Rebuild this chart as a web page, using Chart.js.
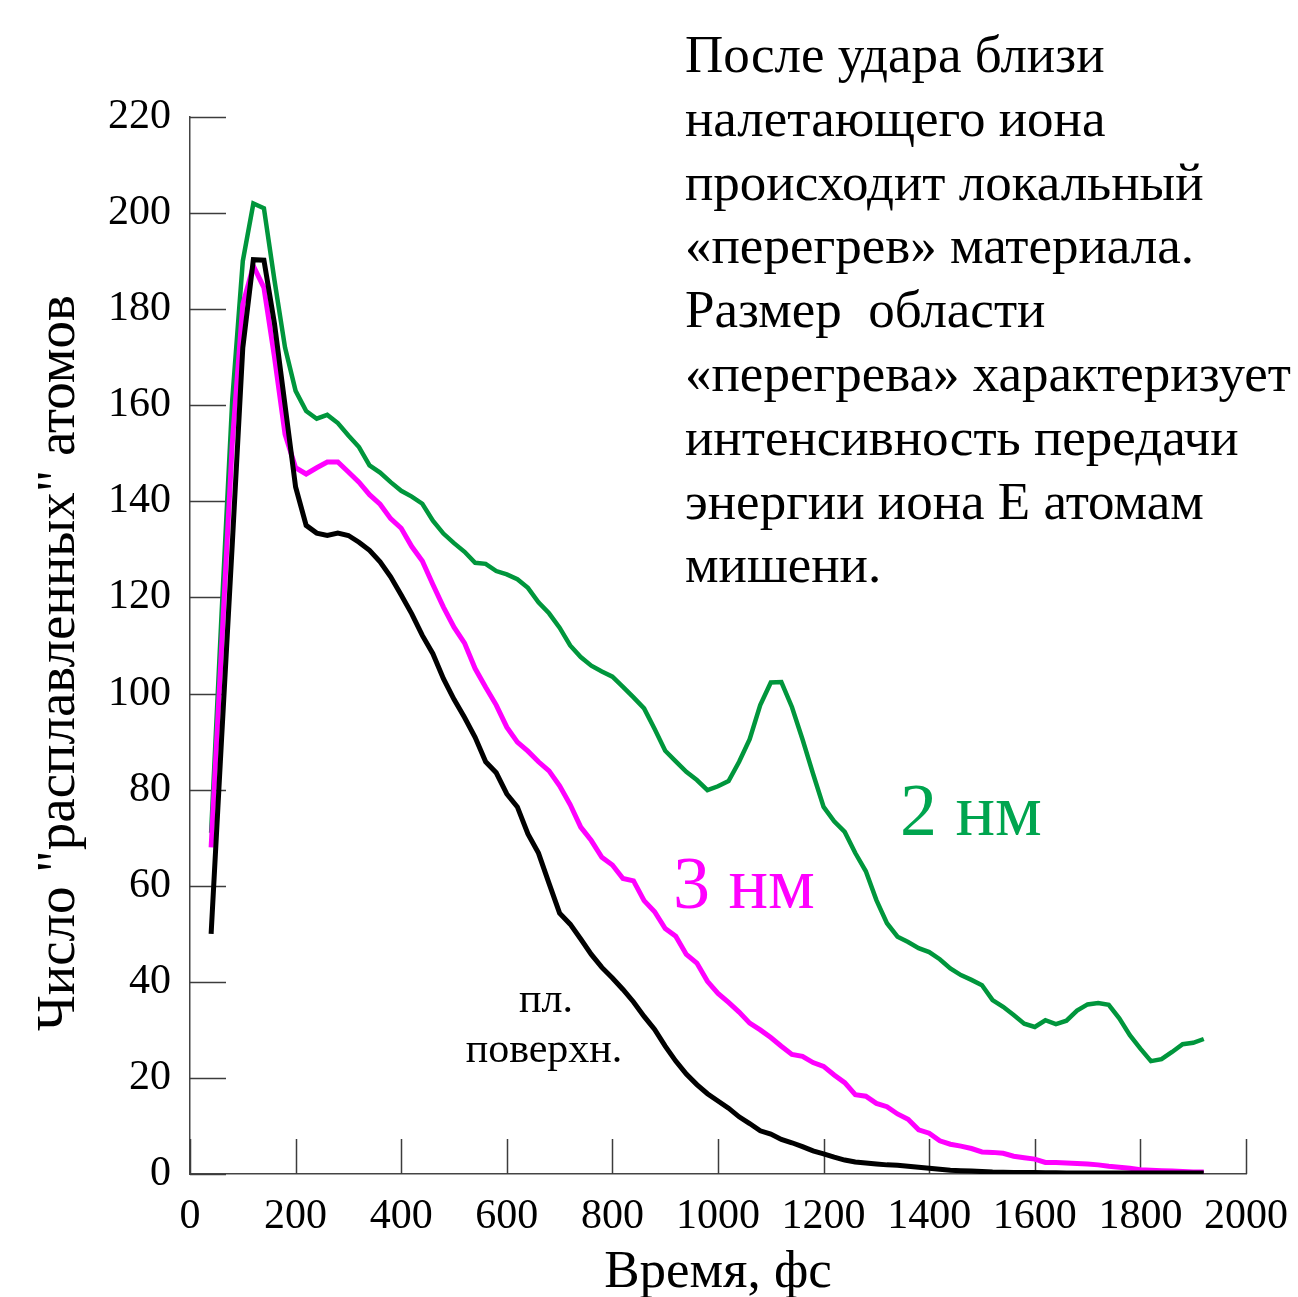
<!DOCTYPE html>
<html lang="ru">
<head>
<meta charset="utf-8">
<title>Число "расплавленных" атомов</title>
<script src="https://cdn.jsdelivr.net/npm/chart.js@4.4.1/dist/chart.umd.min.js"></script>
<style>
  html, body { margin: 0; padding: 0; background: #ffffff; }
  canvas { display: block; }
</style>
</head>
<body>
<canvas id="melt" width="1298" height="1297"></canvas>
<script>
// Time after impact, fs
const timeFs = [
  40, 60, 80, 100, 120, 140, 160, 180, 200, 220,
  240, 260, 280, 300, 320, 340, 360, 380, 400, 420,
  440, 460, 480, 500, 520, 540, 560, 580, 600, 620,
  640, 660, 680, 700, 720, 740, 760, 780, 800, 820,
  840, 860, 880, 900, 920, 940, 960, 980, 1000, 1020,
  1040, 1060, 1080, 1100, 1120, 1140, 1160, 1180, 1200, 1220,
  1240, 1260, 1280, 1300, 1320, 1340, 1360, 1380, 1400, 1420,
  1440, 1460, 1480, 1500, 1520, 1540, 1560, 1580, 1600, 1620,
  1640, 1660, 1680, 1700, 1720, 1740, 1760, 1780, 1800, 1820,
  1840, 1860, 1880, 1900, 1920
];

// Number of "melted" atoms, 2 nm
const melted2nm = [
  71, 117, 161, 190, 202, 201, 186, 172, 163, 158.8,
  157.2, 158, 156.3, 153.7, 151.3, 147.5, 146, 144, 142.2, 141,
  139.5, 136, 133.3, 131.3, 129.5, 127.2, 127, 125.5, 124.8, 123.8,
  122, 119, 116.7, 113.7, 110, 107.6, 105.8, 104.6, 103.5, 101.4,
  99.2, 96.9, 92.6, 88.1, 85.9, 83.7, 82, 79.9, 80.7, 81.8,
  85.8, 90.5, 97.6, 102.3, 102.4, 97.2, 90.5, 83.3, 76.4, 73.4,
  71.2, 66.8, 63, 57, 52.2, 49.4, 48.3, 47, 46.2, 44.7,
  42.8, 41.4, 40.4, 39.3, 36.2, 34.8, 33.1, 31.3, 30.6, 32,
  31.2, 31.9, 34, 35.3, 35.6, 35.2, 32.4, 28.9, 26.1, 23.5,
  23.9, 25.4, 27, 27.3, 28.1
];

// Number of "melted" atoms, 3 nm
const melted3nm = [
  68, 110, 152, 181, 189, 184.5, 170, 154, 147, 145.7,
  147, 148.2, 148.2, 146.1, 144, 141.4, 139.4, 136.4, 134.4, 130.6,
  127.6, 122.7, 118, 113.8, 110.5, 105.2, 101.3, 97.6, 93, 89.9,
  88, 85.8, 83.9, 80.8, 76.9, 72.2, 69.4, 65.9, 64.3, 61.5,
  61, 56.9, 54.6, 51.1, 49.5, 45.7, 43.9, 40.1, 37.6, 35.7,
  33.7, 31.4, 30, 28.4, 26.6, 24.9, 24.5, 23.2, 22.4, 20.6,
  19, 16.5, 16.2, 14.7, 14, 12.5, 11.4, 9.2, 8.5, 6.9,
  6.2, 5.8, 5.3, 4.6, 4.5, 4.3, 3.7, 3.4, 3.1, 2.4,
  2.4, 2.3, 2.2, 2.1, 1.9, 1.6, 1.4, 1.2, 0.9, 0.8,
  0.7, 0.6, 0.5, 0.4, 0.4
];

// Number of "melted" atoms, flat surface
const meltedFlat = [
  50, 91, 131, 172, 190.3, 190.2, 177, 160, 143, 135,
  133.4, 132.9, 133.4, 132.9, 131.5, 129.8, 127.4, 124.3, 120.5, 116.6,
  112.1, 108.3, 103.1, 98.8, 95, 90.9, 85.8, 83.5, 79.1, 76.4,
  70.8, 66.8, 60.5, 54.3, 52, 48.9, 45.7, 43, 40.8, 38.4,
  35.8, 32.8, 30.1, 26.6, 23.5, 20.8, 18.6, 16.7, 15.2, 13.7,
  11.9, 10.5, 9, 8.3, 7.2, 6.5, 5.7, 4.8, 4.2, 3.5,
  2.9, 2.5, 2.3, 2.1, 1.9, 1.8, 1.6, 1.4, 1.2, 1,
  0.8, 0.7, 0.6, 0.5, 0.4, 0.35, 0.3, 0.3, 0.3, 0.25,
  0.25, 0.2, 0.2, 0.2, 0.2, 0.2, 0.2, 0.2, 0.2, 0.2,
  0.2, 0.2, 0.2, 0.2, 0.2
];

// Axis ticks
const xTickValues = [0, 200, 400, 600, 800, 1000, 1200, 1400, 1600, 1800, 2000];
const yTickValues = [0, 20, 40, 60, 80, 100, 120, 140, 160, 180, 200, 220];

// Texts
const xTitle = 'Время, фс';
const yTitle = 'Число "расплавленных" атомов';
const noteLines = [
  'После удара близи',
  'налетающего иона',
  'происходит локальный',
  '«перегрев» материала.',
  'Размер  области',
  '«перегрева» характеризует',
  'интенсивность передачи',
  'энергии иона Е атомам',
  'мишени.'
];
const seriesNames = ['пл. поверхн.', '3 нм', '2 нм'];

const SERIF = '"Liberation Serif", "Times New Roman", Times, serif';
const GREEN = '#00963c';
const GREEN_TEXT = '#00a54f';
const MAGENTA = '#ff00ff';

const pairs = (ys) => timeFs.map((t, i) => ({ x: t, y: ys[i] }));

// Inward tick marks on both axes
const innerTicks = {
  id: 'innerTicks',
  beforeDatasetsDraw(chart) {
    const { ctx, scales: { x, y } } = chart;
    ctx.save();
    ctx.strokeStyle = '#3c3c3c';
    ctx.lineWidth = 1.5;
    ctx.beginPath();
    for (const v of yTickValues) {
      const py = Math.round(y.getPixelForValue(v)) + 0.5;
      ctx.moveTo(x.left, py);
      ctx.lineTo(x.left + 36, py);
    }
    for (const v of xTickValues) {
      const px = Math.round(x.getPixelForValue(v)) + 0.5;
      ctx.moveTo(px, y.bottom);
      ctx.lineTo(px, y.bottom - 35);
    }
    ctx.stroke();
    ctx.restore();
  }
};

// Axis titles, series labels and the note block
const annotations = {
  id: 'annotations',
  afterDraw(chart) {
    const { ctx, scales: { x, y } } = chart;
    ctx.save();
    ctx.textBaseline = 'alphabetic';

    // x axis title
    ctx.fillStyle = '#000';
    ctx.font = '53px ' + SERIF;
    ctx.textAlign = 'center';
    ctx.fillText(xTitle, (x.left + x.right) / 2, 1287);

    // y axis title
    ctx.save();
    ctx.font = '55px ' + SERIF;
    ctx.translate(74, 663);
    ctx.rotate(-Math.PI / 2);
    ctx.fillText(yTitle, 0, 0);
    ctx.restore();

    // series labels
    ctx.textAlign = 'left';
    ctx.font = '74px ' + SERIF;
    ctx.fillStyle = GREEN_TEXT;
    ctx.fillText(seriesNames[2], 900, 835);
    ctx.fillStyle = MAGENTA;
    ctx.fillText(seriesNames[1], 673, 908);

    ctx.fillStyle = '#000';
    ctx.font = '42px ' + SERIF;
    ctx.textAlign = 'center';
    const [w1, w2] = seriesNames[0].split(' ');
    ctx.fillText(w1, 546, 1012);
    ctx.fillText(w2, 544, 1062);

    // note block
    ctx.textAlign = 'left';
    ctx.font = '53px ' + SERIF;
    noteLines.forEach((line, i) => {
      ctx.fillText(line, 685, 72 + i * 63.8);
    });
    ctx.restore();
  }
};

new Chart(document.getElementById('melt'), {
  type: 'line',
  data: {
    datasets: [
      { label: seriesNames[0], data: pairs(meltedFlat), borderColor: '#000000', borderWidth: 5 },
      { label: seriesNames[1], data: pairs(melted3nm), borderColor: MAGENTA, borderWidth: 5 },
      { label: seriesNames[2], data: pairs(melted2nm), borderColor: GREEN, borderWidth: 4.5 }
    ]
  },
  options: {
    responsive: false,
    animation: false,
    devicePixelRatio: 1,
    layout: { padding: { left: 0, top: 117, right: 52, bottom: 0 } },
    elements: {
      point: { radius: 0, hoverRadius: 0 },
      line: { tension: 0, fill: false, borderJoinStyle: 'miter', borderCapStyle: 'butt' }
    },
    plugins: {
      legend: { display: false },
      tooltip: { enabled: false },
      title: { display: false }
    },
    scales: {
      x: {
        type: 'linear',
        min: 0,
        max: 2000,
        afterBuildTicks: (s) => { s.ticks = xTickValues.map(v => ({ value: v })); },
        afterFit: (s) => { s.height = 123; s.paddingLeft = 0; s.paddingRight = 0; },
        grid: { display: false, drawTicks: false },
        border: { display: true, color: '#444444', width: 1.5 },
        ticks: {
          color: '#000',
          font: { family: SERIF, size: 42 },
          padding: 18,
          maxRotation: 0,
          autoSkip: false,
          callback: (v) => String(v)
        }
      },
      y: {
        type: 'linear',
        min: 0,
        max: 220,
        afterBuildTicks: (s) => { s.ticks = yTickValues.map(v => ({ value: v })); },
        afterFit: (s) => { s.width = 190; s.paddingTop = 0; s.paddingBottom = 0; },
        grid: { display: false, drawTicks: false },
        border: { display: true, color: '#444444', width: 1.5 },
        ticks: {
          color: '#000',
          font: { family: SERIF, size: 42 },
          padding: 19,
          autoSkip: false,
          callback: (v) => String(v)
        }
      }
    }
  },
  plugins: [innerTicks, annotations]
});
</script>
</body>
</html>
